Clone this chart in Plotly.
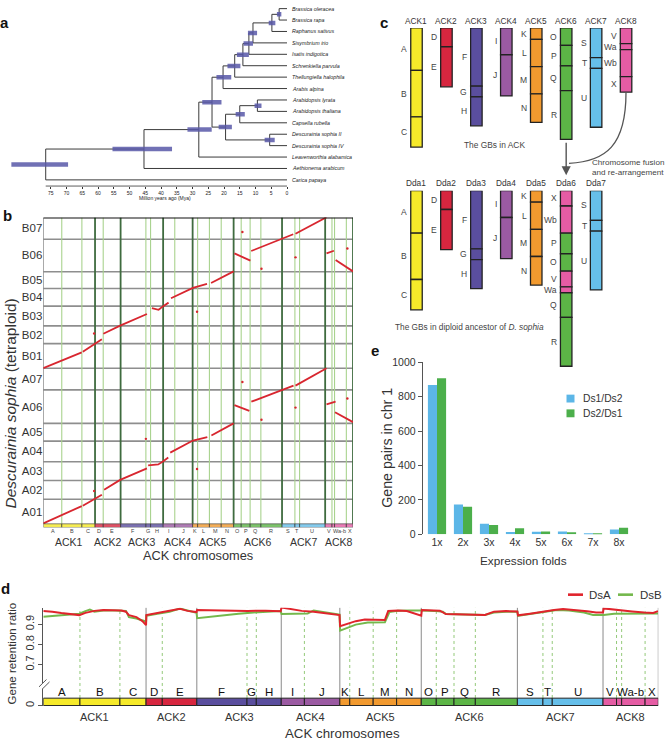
import plotly.graph_objects as go

W, H = 667, 745
FONT = "Liberation Sans, Arial, Helvetica, sans-serif"
TXT = "#333333"


def PX(x):
    return x / W


def PY(y):
    return 1 - y / H


# ======================= DATA =======================
# ---- panel a : dated phylogeny
taxa = ["Brassica oleracea", "Brassica rapa", "Raphanus sativus", "Sisymbrium irio",
        "Isatis indigotica", "Schrenkiella parvula", "Thellungiella halophila", "Arabis alpina",
        "Arabidopsis lyrata", "Arabidopsis thaliana", "Capsella rubella", "Descurainia sophia II",
        "Descurainia sophia IV", "Leavenworthia alabamica", "Aethionema arabicum", "Carica papaya"]
node_age = [2.5, 4.8, 10.8, 12.1, 14.0, 16.6, 20.3, 9.4, 15.0, 5.5, 19.5, 23.8, 28.0, 45.4, 76.6]
node_lo = [1.8, 3.7, 9.5, 10.8, 12.1, 14.8, 17.7, 8.1, 13.4, 3.9, 17.5, 20.8, 23.9, 36.5, 69.5]
node_hi = [3.2, 5.8, 12.4, 13.8, 15.9, 18.9, 22.4, 10.3, 16.3, 7.1, 21.7, 26.9, 31.6, 55.4, 87.5]
node_kids = [("t0", "t1"), ("n0", "t2"), ("n1", "t3"), ("n2", "t4"), ("n3", "t5"), ("n4", "t6"),
             ("n5", "t7"), ("t8", "t9"), ("n7", "t10"), ("t11", "t12"), ("n8", "n9"),
             ("n6", "n10"), ("n11", "t13"), ("n12", "t14"), ("n13", "t15")]
mya_ticks = [75, 70, 65, 60, 55, 50, 45, 40, 35, 30, 25, 20, 15, 10, 5, 0]

# ---- genomic blocks (GBs) of the ACK, Mb
gb_names = ['A', 'B', 'C', 'D', 'E', 'F', 'G', 'H', 'I', 'J', 'K', 'L', 'M', 'N',
            'O', 'P', 'Q', 'R', 'S', 'T', 'U', 'V', 'Wa', 'Wb', 'X']
gb_ack = [1, 1, 1, 2, 2, 3, 3, 3, 4, 4, 5, 5, 5, 5, 6, 6, 6, 6, 7, 7, 7, 8, 8, 8, 8]
gb_len = [12.2, 13.3, 8.7, 5.4, 11.5, 16.7, 3.1, 8.3, 7.7, 11.8, 3.3, 7.8, 7.8, 8.2,
          5.0, 5.9, 7.1, 14.0, 8.5, 3.1, 16.9, 4.5, 1.7, 7.8, 4.4]
ack_names = ['ACK1', 'ACK2', 'ACK3', 'ACK4', 'ACK5', 'ACK6', 'ACK7', 'ACK8']
ack_colors = ['#f6ea2a', '#d7263f', '#5a4e9e', '#9b5aa2', '#f29a2f', '#5cb546', '#66bfea', '#e55ca4']

# ---- diploid ancestor chromosomes (panel c bottom row)
dda_names = ['Dda1', 'Dda2', 'Dda3', 'Dda4', 'Dda5', 'Dda6', 'Dda7']
dda_gbs = [['A', 'B', 'C'], ['D', 'E'], ['F', 'G', 'H'], ['I', 'J'], ['K', 'L', 'M', 'N'],
           ['X', 'Wb', 'P', 'O', 'V', 'Wa', 'Q', 'R'], ['S', 'T', 'U']]

# ---- panel b : D. sophia chromosomes (Mb) and syntenic runs
ds_chr = ['A01', 'A02', 'A03', 'A04', 'A05', 'A06', 'A07',
          'B01', 'B02', 'B03', 'B04', 'B05', 'B06', 'B07']
ds_len = [25, 19, 19, 21, 18, 34, 22, 25, 18, 20, 18, 17, 33, 22]
synA_x = [0, 25.4, None, 26.1, 34.2, 38.7, None, 40.2, 50.8, 68.5, None, 69.3, 76, 79.3, 82.6, None,
          83.9, 98.9, 108.4, None, 111.1, 125.8, None, 126.3, 136.2, None, 137.5, 158.5, 165.4, None,
          166.7, 187.2, None, 187.2, 193.2, None, 192.8, 204.7]
synA_y = [0.5, 18, None, 18.3, 25.3, 29.6, None, 34.6, 44.6, 56.3, None, 59.3, 60.3, 63.6, 67.3, None,
          72.3, 84.6, 88, None, 89.6, 102, None, 120.6, 114.6, None, 124, 136.3, 140.3, None,
          140.3, 158, None, 121.3, 124, None, 113.3, 103.3]
synB_x = [0, 25.4, None, 26.1, 34.2, 38.7, None, 39.7, 50.8, 68.5, None, 71.8, 76.2, 79.5, 82.8, None,
          84.4, 98.9, 108.2, None, 110.9, 125.8, None, 126.3, 136.9, None, 137.4, 158.5, 165.2, None,
          166.7, 187.2, None, 187.2, 192.1, None, 193.2, 204.7]
synB_y = [158, 174, None, 174.6, 182.3, 187.3, None, 193, 201.3, 213, None, 219, 217.3, 221.3, 224.6, None,
          229, 239.6, 243.6, None, 244.6, 256.3, None, 274.6, 267.3, None, 277, 289.6, 294, None,
          294.6, 311.3, None, 274.6, 277.3, None, 268, 256.3]
dot_x = [33.6, 67.8, 101.6, 131.6, 144.2, 166.7, 201, 33.6, 101.6, 131.6, 144.2, 166.7, 201]
dot_y = [33.3, 86.3, 55.6, 144, 105.6, 118, 127.3, 193.3, 215.3, 296.3, 259, 270.6, 279.6]

# ---- panel d : gene retention ratio along ACK (Mb)
dsA_x = [0, 3, 6, 9, 12, 14, 17, 20, 23, 26, 27.5, 28.5, 31, 33, 34.2,
         34.3, 38, 42, 45.5, 48, 51,
         51.2, 56, 62, 68, 74, 79,
         79.3, 82, 86, 90, 94, 98.6,
         98.8, 101, 104, 107, 111, 113.7, 114.8, 118, 121, 124, 125.8,
         126, 129, 132, 134, 138, 142, 147, 150, 154, 157.8,
         158, 162, 166, 170, 173, 177, 181, 184, 186.3,
         186.5, 189, 192, 196, 200, 203, 204.6]
dsA_y = [0.965, 0.962, 0.955, 0.950, 0.945, 0.956, 0.966, 0.970, 0.968, 0.968, 0.962, 0.945, 0.935, 0.915, 0.895,
         0.945, 0.955, 0.965, 0.976, 0.966, 0.960,
         0.970, 0.968, 0.969, 0.966, 0.967, 0.964,
         0.983, 0.975, 0.966, 0.962, 0.955, 0.945,
         0.890, 0.900, 0.915, 0.923, 0.921, 0.921, 0.965, 0.968, 0.965, 0.950, 0.942,
         0.970, 0.968, 0.967, 0.950, 0.948, 0.949, 0.946, 0.962, 0.965, 0.963,
         0.944, 0.952, 0.962, 0.970, 0.975, 0.971, 0.964, 0.958, 0.958,
         0.978, 0.975, 0.970, 0.963, 0.958, 0.956, 0.965]
dsB_x = [0, 4, 8, 12, 14, 15.5, 17, 20, 24, 27.5, 28.5, 31, 34.2,
         34.3, 38, 42, 45.5, 48, 51,
         51.2, 55, 60, 65, 70, 75, 79,
         79.3, 84, 88, 90, 93, 96, 98.6,
         98.8, 100, 104, 108, 113.7, 115.2, 118, 122, 125.8,
         126, 130, 133, 134, 140, 147, 150, 154, 157.8,
         158, 162, 166, 171, 175, 180, 183, 186.3,
         186.5, 190, 195, 200, 204.6]
dsB_y = [0.937, 0.942, 0.944, 0.952, 0.965, 0.972, 0.962, 0.968, 0.968, 0.966, 0.935, 0.928, 0.913,
         0.942, 0.952, 0.962, 0.978, 0.968, 0.957,
         0.930, 0.937, 0.945, 0.952, 0.958, 0.962, 0.965,
         0.950, 0.952, 0.953, 0.968, 0.962, 0.955, 0.948,
         0.868, 0.875, 0.898, 0.908, 0.909, 0.960, 0.967, 0.968, 0.965,
         0.968, 0.966, 0.962, 0.950, 0.948, 0.946, 0.958, 0.962, 0.962,
         0.941, 0.950, 0.958, 0.970, 0.968, 0.958, 0.946, 0.944,
         0.945, 0.952, 0.953, 0.955, 0.953]

# ---- panel e : expression fold distribution
folds = ['1x', '2x', '3x', '4x', '5x', '6x', '7x', '8x']
ds1_ds2 = [868, 173, 61, 13, 15, 17, 2, 28]
ds2_ds1 = [906, 160, 55, 36, 17, 12, 7, 38]

# ======================= DERIVED =======================
gb_start = []
acc = 0.0
for L in gb_len:
    gb_start.append(acc)
    acc += L
GENOME = acc
gb_color = [ack_colors[a - 1] for a in gb_ack]
gb_idx = {n: i for i, n in enumerate(gb_names)}
ack_start, ack_end = [], []
for k in range(1, 9):
    ids = [i for i, a in enumerate(gb_ack) if a == k]
    ack_start.append(gb_start[ids[0]])
    ack_end.append(gb_start[ids[-1]] + gb_len[ids[-1]])
# labels for bottom strips (Wa and Wb merged)
strip_lab, strip_pos = [], []
i = 0
while i < len(gb_names):
    if gb_names[i] == 'Wa':
        strip_lab.append('Wa-b')
        strip_pos.append(gb_start[i] + (gb_len[i] + gb_len[i + 1]) / 2)
        i += 2
        continue
    strip_lab.append(gb_names[i])
    strip_pos.append(gb_start[i] + gb_len[i] / 2)
    i += 1

fig = go.Figure()
shapes, ann = [], []


def base_axis(**kw):
    d = dict(showgrid=False, zeroline=False, showline=False, ticks='', showticklabels=False,
             fixedrange=True)
    d.update(kw)
    return d


def A(text, x, y, size, xref='paper', yref='paper', xanchor='center', yanchor='middle',
      color=TXT, angle=0):
    ann.append(dict(text=text, x=x, y=y, xref=xref, yref=yref, xanchor=xanchor, yanchor=yanchor,
                    showarrow=False, textangle=angle, font=dict(size=size, color=color, family=FONT)))


# ======================= PANEL a =======================
pos = {}
for i in range(len(taxa)):
    pos['t%d' % i] = (0.0, float(i))
for j, (k1, k2) in enumerate(node_kids):
    pos['n%d' % j] = (node_age[j], (pos[k1][1] + pos[k2][1]) / 2)
tx, ty = [], []
for j, (k1, k2) in enumerate(node_kids):
    age = node_age[j]
    tx += [age, age, None]
    ty += [pos[k1][1], pos[k2][1], None]
    for k in (k1, k2):
        tx += [age, pos[k][0], None]
        ty += [pos[k][1], pos[k][1], None]
fig.add_trace(go.Scatter(x=tx, y=ty, mode='lines', line=dict(color='#3a3a3a', width=1),
                         xaxis='x', yaxis='y', hoverinfo='skip'))
hx, hy = [], []
for j in range(len(node_kids)):
    hx += [node_lo[j], node_hi[j], None]
    hy += [pos['n%d' % j][1]] * 2 + [None]
fig.add_trace(go.Scatter(x=hx, y=hy, mode='lines', line=dict(color='rgba(88,88,168,0.85)', width=4.5),
                         xaxis='x', yaxis='y', hoverinfo='skip'))
for i, t in enumerate(taxa):
    A('<i>%s</i>' % t, -1.0, i, 5.3, xref='x', yref='y', xanchor='left', color='#222')
shapes.append(dict(type='line', xref='x', yref='paper', x0=node_age[-1], x1=0,
                   y0=PY(183), y1=PY(183), line=dict(color='#333', width=0.8)))
A('Million years ago (Mya)', PX(165), PY(195), 5, color='#222')

# ======================= PANEL b =======================
cum = [0]
for L in ds_len:
    cum.append(cum[-1] + L)
TOP = cum[-1]
for c in cum[1:-1]:
    shapes.append(dict(type='line', xref='x2', yref='y2', x0=0, x1=GENOME, y0=c, y1=c,
                       layer='below', line=dict(color='#8e8e8e', width=1.6)))
ack_bounds = set(round(v, 4) for v in ack_start + ack_end)
for s in gb_start[1:]:
    if round(s, 4) not in ack_bounds:
        shapes.append(dict(type='line', xref='x2', yref='y2', x0=s, x1=s, y0=0, y1=TOP,
                           layer='below', line=dict(color='#a9d38e', width=1.1)))
for s in ack_start[1:] + [GENOME]:
    shapes.append(dict(type='line', xref='x2', yref='y2', x0=s, x1=s, y0=0, y1=TOP,
                       layer='below', line=dict(color='#3f6b3f', width=1.8)))
shapes.append(dict(type='line', xref='x2', yref='y2', x0=0, x1=0, y0=0, y1=TOP,
                   layer='below', line=dict(color='#666', width=1)))
shapes.append(dict(type='line', xref='x2', yref='y2', x0=0, x1=GENOME, y0=TOP, y1=TOP,
                   line=dict(color='#111', width=2)))
for i in range(len(gb_names)):
    shapes.append(dict(type='rect', xref='x2', yref='y2', x0=gb_start[i], x1=gb_start[i] + gb_len[i],
                       y0=-3.7, y1=0, fillcolor=gb_color[i], opacity=0.8,
                       line=dict(color='#222', width=0.7)))
fig.add_trace(go.Scatter(x=synA_x, y=synA_y, mode='lines', line=dict(color='#d8262f', width=1.8),
                         xaxis='x2', yaxis='y2', hoverinfo='skip'))
fig.add_trace(go.Scatter(x=synB_x, y=synB_y, mode='lines', line=dict(color='#d8262f', width=1.8),
                         xaxis='x2', yaxis='y2', hoverinfo='skip'))
fig.add_trace(go.Scatter(x=dot_x, y=dot_y, mode='markers', marker=dict(color='#d8262f', size=2.4),
                         xaxis='x2', yaxis='y2', hoverinfo='skip'))
for lab, p in zip(strip_lab, strip_pos):
    A(lab, p, PY(534), 5.5, xref='x2', color='#444')
for k in range(8):
    A(ack_names[k], (ack_start[k] + ack_end[k]) / 2, PY(544.5), 10.5, xref='x2')
A('ACK chromosomes', PX(198), PY(559), 12.8)
A('<i>Descurainia sophia</i> (tetraploid)', PX(10), PY(404), 15.5, angle=-90)

# ======================= PANEL c =======================
CW = 0.384
tx_, tb_, tl_, tc_ = [], [], [], []
for k in range(8):
    ids = [i for i, a in enumerate(gb_ack) if a == k + 1]
    b0 = 0.0
    for i in ids:
        tx_.append(k); tb_.append(b0); tl_.append(gb_len[i]); tc_.append(gb_color[i])
        A(gb_names[i], k - 0.25, b0 + gb_len[i] / 2, 8.5, xref='x3', yref='y3', xanchor='right', color='#444')
        b0 += gb_len[i]
    A(ack_names[k], k, PY(15), 8.3, xref='x3')
fig.add_trace(go.Bar(x=tx_, y=tl_, base=tb_, width=CW, marker=dict(color=tc_, line=dict(color='#222', width=1.3)),
                     xaxis='x3', yaxis='y3', hoverinfo='skip'))
bx_, bb_, bl_, bc_ = [], [], [], []
for k, glist in enumerate(dda_gbs):
    b0 = 0.0
    for g in glist:
        i = gb_idx[g]
        bx_.append(k); bb_.append(b0); bl_.append(gb_len[i]); bc_.append(gb_color[i])
        A(g, k - 0.25, b0 + gb_len[i] / 2, 8.5, xref='x3', yref='y4', xanchor='right', color='#444')
        b0 += gb_len[i]
    A(dda_names[k], k, PY(180), 8.3, xref='x3')
fig.add_trace(go.Bar(x=bx_, y=bl_, base=bb_, width=CW, marker=dict(color=bc_, line=dict(color='#222', width=1.3)),
                     xaxis='x3', yaxis='y4', hoverinfo='skip'))
A('The GBs in ACK', PX(494), PY(141), 8.4, color='#444')
A('The GBs in diploid ancestor of <i>D. sophia</i>', PX(469), PY(326), 8.3, color='#444')
A('Chromosome fusion', PX(589.5), PY(159.5), 8.1, xanchor='left', color='#444')
A('and re-arrangement', PX(589.5), PY(169), 8.1, xanchor='left', color='#444')
ann.append(dict(x=5, y=PY(172), xref='x3', yref='paper', ax=0, ay=-34, text='', showarrow=True,
                arrowhead=2, arrowsize=1.3, arrowwidth=1.4, arrowcolor='#555'))
shapes.append(dict(type='path', xref='paper', yref='paper',
                   path='M %f,%f C %f,%f %f,%f %f,%f' % (PX(626), PY(88), PX(626), PY(142), PX(606), PY(158),
                                                         PX(569), PY(160)),
                   line=dict(color='#555', width=1.3)))

# ======================= PANEL d =======================
for s in ack_start[1:] + [GENOME]:
    shapes.append(dict(type='line', xref='x5', yref='paper', x0=s, x1=s, y0=PY(703.3), y1=PY(611.7),
                       layer='below', line=dict(color='#8a8a8a', width=1)))
for s in gb_start[1:]:
    if round(s, 4) not in ack_bounds:
        shapes.append(dict(type='line', xref='x5', yref='paper', x0=s, x1=s, y0=PY(703.3), y1=PY(611.7),
                           layer='below', line=dict(color='#93c979', width=1, dash='dot')))
fig.add_trace(go.Scatter(x=dsB_x, y=dsB_y, mode='lines', line=dict(color='#74b84c', width=2),
                         xaxis='x5', yaxis='y5', hoverinfo='skip'))
fig.add_trace(go.Scatter(x=dsA_x, y=dsA_y, mode='lines', line=dict(color='#e0242c', width=2),
                         xaxis='x5', yaxis='y5', hoverinfo='skip'))
fig.add_trace(go.Bar(x=gb_len, y=[0.375] * len(gb_len), base=gb_start, orientation='h', width=0.75,
                     marker=dict(color=gb_color, line=dict(color='#222', width=1)),
                     xaxis='x5', yaxis='y7', hoverinfo='skip'))
for lab, p in zip(strip_lab, strip_pos):
    A(lab, p, PY(697.5), 11.5, xref='x5', color='#111')
for k in range(8):
    A(ack_names[k], (ack_start[k] + ack_end[k]) / 2, PY(722.7), 11, xref='x5')
A('ACK chromosomes', PX(343), PY(739.5), 13.3)
A('Gene retention ratio', PX(12), PY(658), 11.5, angle=-90)
for (x0, y0, x1, y1) in [(39, 692, 46.5, 684.5), (42, 694.5, 49.5, 687)]:
    shapes.append(dict(type='line', xref='paper', yref='paper', x0=PX(x0), y0=PY(y0), x1=PX(x1), y1=PY(y1),
                       line=dict(color='#555', width=1)))
shapes.append(dict(type='line', xref='paper', yref='paper', x0=PX(568), x1=PX(583), y0=PY(598.3), y1=PY(598.3),
                   line=dict(color='#e0242c', width=2.6)))
shapes.append(dict(type='line', xref='paper', yref='paper', x0=PX(618), x1=PX(633), y0=PY(598.3), y1=PY(598.3),
                   line=dict(color='#74b84c', width=2.6)))
A('DsA', PX(587), PY(598.3), 11.5, xanchor='left')
A('DsB', PX(637.5), PY(598.3), 11.5, xanchor='left')

# ======================= PANEL e =======================
fig.add_trace(go.Bar(x=folds, y=ds1_ds2, marker=dict(color='#5cb6e7', line=dict(width=0)),
                     xaxis='x6', yaxis='y6', hoverinfo='skip'))
fig.add_trace(go.Bar(x=folds, y=ds2_ds1, marker=dict(color='#4caf4b', line=dict(width=0)),
                     xaxis='x6', yaxis='y6', hoverinfo='skip'))
A('Gene pairs in chr 1', PX(387), PY(449), 14.2, angle=-90)
A('Expression folds', PX(523), PY(564), 11.8)
shapes.append(dict(type='rect', xref='paper', yref='paper', x0=PX(566.5), x1=PX(574.5), y0=PY(403), y1=PY(395),
                   fillcolor='#5cb6e7', line=dict(width=0)))
shapes.append(dict(type='rect', xref='paper', yref='paper', x0=PX(566.5), x1=PX(574.5), y0=PY(418), y1=PY(410),
                   fillcolor='#4caf4b', line=dict(width=0)))
A('Ds1/Ds2', PX(580.5), PY(399), 10.3, xanchor='left')
A('Ds2/Ds1', PX(580.5), PY(414), 10.3, xanchor='left')

# panel letters
for t, x, y in [('a', 4.5, 17), ('b', 7, 213), ('c', 384, 17), ('d', 6, 592), ('e', 374.5, 350)]:
    A('<b>%s</b>' % t, PX(x), PY(y), 15, color='#111')

# ======================= LAYOUT =======================
fig.update_layout(
    width=W, height=H, margin=dict(l=0, r=0, t=0, b=0),
    paper_bgcolor='white', plot_bgcolor='rgba(0,0,0,0)',
    showlegend=False, barmode='group', bargap=0.3, bargroupgap=0.0,
    font=dict(family=FONT, color=TXT),
    shapes=shapes, annotations=ann,
    xaxis=base_axis(domain=[PX(9.8), PX(293.3)], range=[88, -2], anchor='y',
                    tickmode='array', tickvals=mya_ticks, ticktext=[str(v) for v in mya_ticks],
                    showticklabels=True, ticks='outside', ticklen=2, tickwidth=0.6, tickcolor='#333',
                    tickfont=dict(size=5, color='#222')),
    yaxis=base_axis(domain=[PY(183), PY(0)], range=[15.54, -0.23], anchor='x'),
    xaxis2=base_axis(domain=[PX(43.3), PX(353)], range=[0, GENOME], anchor='y2'),
    yaxis2=base_axis(domain=[PY(530), PY(215)], range=[-3.7, TOP], anchor='x2',
                     tickmode='array', tickvals=[cum[i] + ds_len[i] / 2 for i in range(len(ds_len))],
                     ticktext=ds_chr, showticklabels=True, tickfont=dict(size=11.5, color='#333')),
    xaxis3=base_axis(domain=[PX(395), PX(650)], range=[-0.718, 7.8], anchor='y3'),
    yaxis3=base_axis(domain=[PY(151.2), PY(22.3)], range=[36.4, 0], anchor='x3'),
    yaxis4=base_axis(domain=[PY(371.8), PY(187.7)], range=[52, 0], anchor='x3'),
    xaxis5=base_axis(domain=[PX(43.3), PX(658.3)], range=[0, GENOME], anchor='y7'),
    yaxis5=base_axis(domain=[PY(688), PY(611.7)], range=[0.609, 0.981], anchor='x5',
                     tickmode='array', tickvals=[0.7, 0.8, 0.9], ticktext=['0.7', '0.8', '0.9'],
                     showticklabels=True, tickangle=-90, ticks='outside', ticklen=4, tickcolor='#555',
                     showline=True, linecolor='#555', linewidth=1, tickfont=dict(size=11, color='#333')),
    yaxis7=base_axis(domain=[PY(711.5), PY(694)], range=[-0.05, 1.7], anchor='x5',
                     tickmode='array', tickvals=[0], ticktext=['0'],
                     showticklabels=True, tickangle=-90, ticks='outside', ticklen=4, tickcolor='#555',
                     showline=True, linecolor='#555', linewidth=1, tickfont=dict(size=11, color='#333')),
    xaxis6=base_axis(domain=[PX(422.7), PX(632)], range=[-0.55, 7.5], anchor='y6', type='category',
                     categoryorder='array', categoryarray=folds, showticklabels=True,
                     tickfont=dict(size=10.5, color='#333')),
    yaxis6=base_axis(domain=[PY(537), PY(362)], range=[0, 1000], anchor='x6',
                     tickmode='array', tickvals=[0, 200, 400, 600, 800, 1000], showticklabels=True,
                     ticks='outside', ticklen=4, tickcolor='#555', showline=True, linecolor='#555',
                     linewidth=1, tickfont=dict(size=10.5, color='#333')),
)

fig.write_html("out.html")
